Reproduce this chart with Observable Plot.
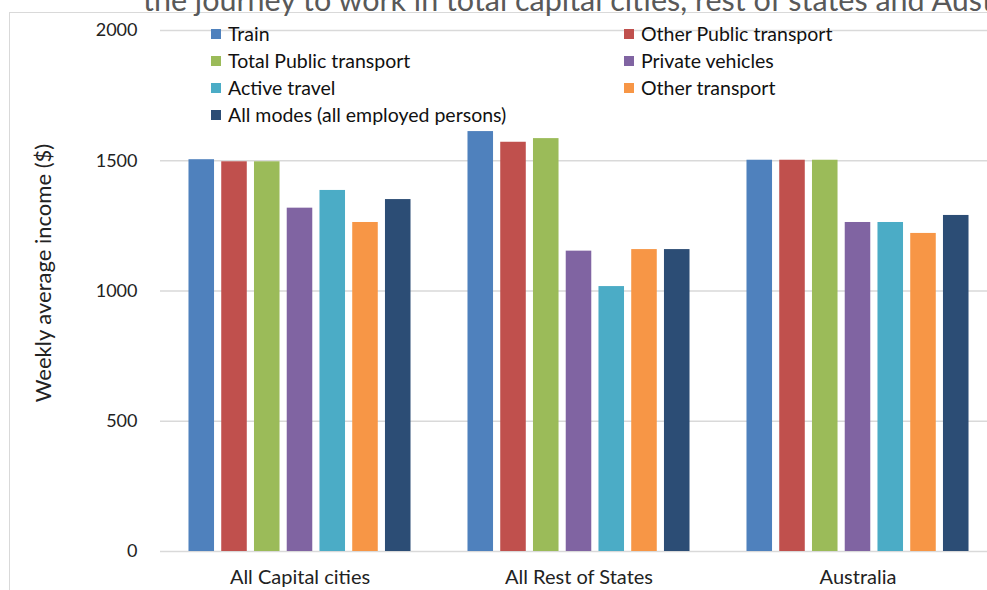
<!DOCTYPE html>
<html>
<head>
<meta charset="utf-8">
<script src="https://cdn.jsdelivr.net/npm/d3@7"></script>
<script src="https://cdn.jsdelivr.net/npm/@observablehq/plot@0.6"></script>
<style>
  html, body { margin: 0; padding: 0; background: #fff; overflow: hidden; }
  #wrap { position: relative; width: 987px; height: 590px; overflow: hidden; background: #fff; font-family: Lato, "Open Sans", sans-serif; }
  #border { position: absolute; left: 9px; top: 12px; width: 2000px; height: 2000px; border-top: 1.5px solid #d9d9d9; border-left: 1.5px solid #d9d9d9; }
  #chart { position: absolute; left: 0; top: 0; width: 1000px; }
  #chart svg { max-width: none; }
  #title { position: absolute; left: 143px; top: -16px; font-size: 30.5px; line-height: 30px; color: #595959; white-space: nowrap; }
  #ylabel { position: absolute; left: 42px; top: 273px; transform: translate(-50%, -50%) rotate(-90deg); font-size: 22px; color: #222; white-space: nowrap; }
  #legend { position: absolute; left: 211px; top: 20px; display: grid; grid-template-columns: 413px 300px; grid-auto-rows: 27px; font-size: 19.5px; color: #111; }
  .item { display: flex; align-items: center; white-space: nowrap; }
  .sw { width: 10px; height: 10px; margin-right: 7px; flex: none; }
</style>
</head>
<body>
<div id="wrap">
  <div id="border"></div>
  <div id="chart"></div>
  <div id="title"></div>
  <div id="ylabel"></div>
  <div id="legend"></div>
</div>
<script>
const titleText = "the journey to work in total capital cities, rest of states and Australia";
const yLabel = "Weekly average income ($)";
const regions = ["All Capital cities", "All Rest of States", "Australia"];
const modes = ["Train", "Other Public transport", "Total Public transport", "Private vehicles", "Active travel", "Other transport", "All modes (all employed persons)"];
const capitalValues = [1504, 1496, 1496, 1318, 1386, 1263, 1351];
const restValues = [1612, 1571, 1585, 1153, 1017, 1159, 1159];
const australiaValues = [1502, 1502, 1502, 1263, 1263, 1221, 1290];
const colors = ["#4F81BD", "#C0504D", "#9BBB59", "#8064A2", "#4BACC6", "#F79646", "#2C4D75"];
const yTicks = [0, 500, 1000, 1500, 2000];

const seriesByRegion = [capitalValues, restValues, australiaValues];
const data = [];
regions.forEach((r, i) => modes.forEach((m, j) => data.push({region: r, mode: m, value: seriesByRegion[i][j]})));

const chart = Plot.plot({
  width: 1000,
  height: 590,
  marginLeft: 160,
  marginRight: 3,
  marginTop: 30,
  marginBottom: 39,
  style: {fontFamily: "Lato, 'Open Sans', sans-serif", fontSize: "18px", background: "transparent", color: "#222", overflow: "visible", maxWidth: "none"},
  fx: {domain: regions, padding: 0, label: null, round: false},
  x: {domain: modes, paddingInner: 0.22, paddingOuter: 0.87, round: false, axis: null},
  y: {domain: [0, 2000], label: null},
  color: {domain: modes, range: colors},
  marks: [
    Plot.gridY(yTicks, {stroke: "#d9d9d9", strokeOpacity: 1, strokeWidth: 1.5}),
    Plot.barY(data, {fx: "region", x: "mode", y: "value", fill: "mode"}),
    Plot.axisY(yTicks, {tickSize: 0, tickPadding: 23, label: null, fontSize: 18, fill: "#222", tickFormat: d3.format("d")}),
    Plot.axisFx({anchor: "bottom", tickSize: 0, tickPadding: 18, label: null, fontSize: 20, fill: "#222"})
  ]
});
document.getElementById("chart").appendChild(chart);

document.getElementById("title").textContent = titleText;
document.getElementById("ylabel").textContent = yLabel;
const legend = document.getElementById("legend");
modes.forEach((m, i) => {
  const it = document.createElement("div");
  it.className = "item";
  const sw = document.createElement("span");
  sw.className = "sw";
  sw.style.background = colors[i];
  const tx = document.createElement("span");
  tx.textContent = m;
  it.appendChild(sw);
  it.appendChild(tx);
  legend.appendChild(it);
});
</script>
</body>
</html>
